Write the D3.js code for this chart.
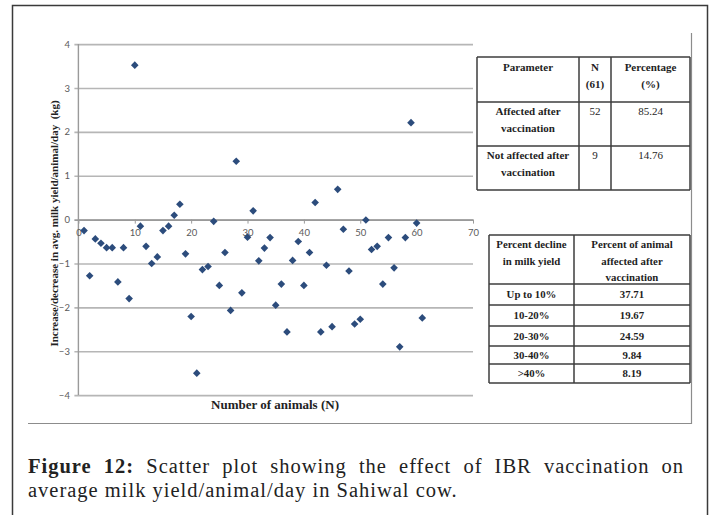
<!DOCTYPE html>
<html>
<head>
<meta charset="utf-8">
<script src="https://cdn.jsdelivr.net/npm/d3@7"></script>
<style>
  html, body { margin: 0; padding: 0; background: #fff; }
  svg { display: block; }
</style>
</head>
<body>
<svg id="fig" width="713" height="515"></svg>
<script>
// Animal number and the change in average milk yield (kg/animal/day) after vaccination
const animalNo = [1,2,3,4,5,6,7,8,9,10,11,12,13,14,15,16,17,18,19,20,
  21,22,23,24,25,26,27,28,29,30,31,32,33,34,35,36,37,38,39,40,
  41,42,43,44,45,46,47,48,49,50,51,52,53,54,55,56,57,58,59,60,61];
const yieldChange = [-0.25,-1.28,-0.44,-0.54,-0.64,-0.64,-1.42,-0.64,-1.80,3.52,
  -0.15,-0.61,-1.00,-0.85,-0.25,-0.15,0.10,0.35,-0.78,-2.21,
  -3.50,-1.14,-1.07,-0.04,-1.50,-0.75,-2.07,1.33,-1.67,-0.40,
  0.20,-0.94,-0.65,-0.41,-1.95,-1.47,-2.56,-0.93,-0.50,-1.50,
  -0.75,0.39,-2.56,-1.04,-2.44,0.69,-0.22,-1.17,-2.38,-2.27,
  -0.01,-0.68,-0.61,-1.47,-0.41,-1.10,-2.90,-0.41,2.21,-0.08,-2.24];

const xTicks = [0,10,20,30,40,50,60,70];
const yTicks = [-4,-3,-2,-1,0,1,2,3,4];

// Summary table: animals affected by vaccination
const paramHeader = [["Parameter"], ["N", "(61)"], ["Percentage", "(%)"]];
const paramLabels = [["Affected after", "vaccination"], ["Not affected after", "vaccination"]];
const paramCounts = [52, 9];
const paramPercents = ["85.24", "14.76"];

// Distribution of decline in milk yield
const declineHeader = [["Percent decline", "in milk yield"], ["Percent of animal", "affected after", "vaccination"]];
const declineBands = ["Up to 10%", "10-20%", "20-30%", "30-40%", ">40%"];
const declineShares = ["37.71", "19.67", "24.59", "9.84", "8.19"];

const captionBold = "Figure 12:";
const captionLine1 = " Scatter plot showing the effect of IBR vaccination on";
const captionLine2 = "average milk yield/animal/day in Sahiwal cow.";

const serif = "'Liberation Serif', 'Times New Roman', serif";
const sans = "Lato, 'Liberation Sans', sans-serif";

const svg = d3.select("#fig");

// outer figure frame
svg.append("rect")
  .attr("x", 12.5).attr("y", 5.5).attr("width", 695).attr("height", 530)
  .attr("fill", "none").attr("stroke", "#3a3a3a").attr("stroke-width", 1.5);

// edges of the chart picture
svg.append("path")
  .attr("d", "M691.5,33V423.5H28")
  .attr("fill", "none").attr("stroke", "#8c8c8c").attr("stroke-width", 1.2);

// scales
const x = d3.scaleLinear().domain([0, 70]).range([78.4, 473]);
const y = d3.scaleLinear().domain([-4, 4]).range([395.1, 44.1]);
const plotW = x(70) - x(0);

// horizontal gridlines with left tick labels
const yAxis = svg.append("g")
  .attr("transform", `translate(${x(0) - 4},0)`)
  .call(d3.axisLeft(y).tickValues(yTicks).tickSize(-(plotW + 4)).tickPadding(4.5).tickFormat(d3.format("d")));
yAxis.select(".domain").remove();
yAxis.selectAll(".tick line")
  .attr("stroke", d => d === 0 ? "#9a9a9a" : "#b6b6b6")
  .attr("stroke-width", 1.6);
yAxis.selectAll(".tick text")
  .attr("fill", "#5a5a5a").style("font-family", sans).style("font-size", "9.5px");

// vertical axis line
svg.append("line")
  .attr("x1", x(0)).attr("x2", x(0)).attr("y1", y(4)).attr("y2", y(-4))
  .attr("stroke", "#9a9a9a").attr("stroke-width", 1.4);

// horizontal axis sits on the zero line
const xAxis = svg.append("g")
  .attr("transform", `translate(0,${y(0)})`)
  .call(d3.axisBottom(x).tickValues(xTicks).tickSize(4).tickPadding(6).tickSizeOuter(0));
xAxis.select(".domain").attr("stroke", "#9a9a9a").attr("stroke-width", 1.4);
xAxis.selectAll(".tick line").attr("stroke", "#9a9a9a");
xAxis.selectAll(".tick text")
  .attr("fill", "#5a5a5a").style("font-family", sans).style("font-size", "9.5px");

// axis titles
svg.append("text")
  .attr("transform", `translate(58,223.5) rotate(-90)`)
  .attr("text-anchor", "middle")
  .style("font-family", serif).style("font-size", "11px").style("font-weight", "bold")
  .style("white-space", "pre").attr("fill", "#222")
  .text("Increase/decrease in avg. milk yield/animal/day  (kg)");

svg.append("text")
  .attr("x", 275).attr("y", 408.5)
  .attr("text-anchor", "middle")
  .style("font-family", serif).style("font-size", "13px").style("font-weight", "bold")
  .attr("fill", "#222")
  .text("Number of animals (N)");

// diamond markers
const diamond = d3.symbol().type(d3.symbolSquare).size(29);
svg.append("g").selectAll("path")
  .data(animalNo.map((n, i) => ({ n, v: yieldChange[i] })))
  .join("path")
  .attr("d", diamond)
  .attr("transform", d => `translate(${x(d.n)},${y(d.v)}) rotate(45)`)
  .attr("fill", "#2c4c7c");

// generic bordered table
function drawTable(colEdges, rowEdges, cells) {
  const g = svg.append("g");
  const x0 = colEdges[0], x1 = colEdges[colEdges.length - 1];
  const y0 = rowEdges[0], y1 = rowEdges[rowEdges.length - 1];
  g.selectAll("line.h").data(rowEdges).join("line")
    .attr("x1", x0).attr("x2", x1).attr("y1", d => d).attr("y2", d => d)
    .attr("stroke", "#3c3c3c").attr("stroke-width", 1.5);
  g.selectAll("line.v").data(colEdges).join("line")
    .attr("x1", d => d).attr("x2", d => d).attr("y1", y0).attr("y2", y1)
    .attr("stroke", "#3c3c3c").attr("stroke-width", 1.5);
  cells.forEach(c => {
    const cx = (colEdges[c.col] + colEdges[c.col + 1]) / 2;
    const t = g.append("text")
      .attr("text-anchor", "middle")
      .style("font-family", serif).style("font-size", c.size + "px")
      .style("font-weight", c.bold ? "bold" : "normal")
      .attr("fill", "#1e1e1e");
    c.lines.forEach((ln, k) => {
      t.append("tspan").attr("x", cx).attr("y", c.top + k * c.lh).attr("dy", "0.35em").text(ln);
    });
  });
}

// table 1
const t1Cols = [477, 579, 611, 690];
const t1Rows = [57, 102, 146, 190];
const t1Cells = [];
paramHeader.forEach((lines, j) => t1Cells.push({ col: j, top: t1Rows[0] + 10, lh: 16.7, lines, bold: true, size: 11 }));
paramLabels.forEach((lines, i) => {
  const top = t1Rows[i + 1] + 9.5;
  t1Cells.push({ col: 0, top, lh: 16.5, lines, bold: true, size: 11 });
  t1Cells.push({ col: 1, top, lh: 16.5, lines: [String(paramCounts[i])], bold: false, size: 11 });
  t1Cells.push({ col: 2, top, lh: 16.5, lines: [paramPercents[i]], bold: false, size: 11 });
});
drawTable(t1Cols, t1Rows, t1Cells);

// table 2
const t2Cols = [489, 574, 690];
const t2Rows = [235, 284, 305, 326, 346, 364, 383];
const t2Cells = [];
declineHeader.forEach((lines, j) => t2Cells.push({ col: j, top: t2Rows[0] + 9.5, lh: 16.5, lines, bold: true, size: 10.8 }));
declineBands.forEach((band, i) => {
  const mid = (t2Rows[i + 1] + t2Rows[i + 2]) / 2;
  t2Cells.push({ col: 0, top: mid, lh: 0, lines: [band], bold: true, size: 10.8 });
  t2Cells.push({ col: 1, top: mid, lh: 0, lines: [declineShares[i]], bold: true, size: 10.8 });
});
drawTable(t2Cols, t2Rows, t2Cells);

// caption, first line justified across the text column
const capLeft = 28, capRight = 684;
const capStyle = sel => sel
  .style("font-family", serif).style("font-size", "20.5px")
  .style("letter-spacing", "1px").attr("fill", "#222");
const cap1 = svg.append("text")
  .attr("x", capLeft).attr("y", 473)
  .style("white-space", "pre")
  .call(capStyle);
cap1.append("tspan").style("font-weight", "bold").text(captionBold);
cap1.append("tspan").text(captionLine1);
const natural = cap1.node().getComputedTextLength();
const gaps = (captionBold + captionLine1).split(" ").length - 1;
cap1.style("word-spacing", ((capRight - capLeft - natural) / gaps) + "px");

svg.append("text")
  .attr("x", capLeft).attr("y", 497)
  .call(capStyle)
  .text(captionLine2);
</script>
</body>
</html>
